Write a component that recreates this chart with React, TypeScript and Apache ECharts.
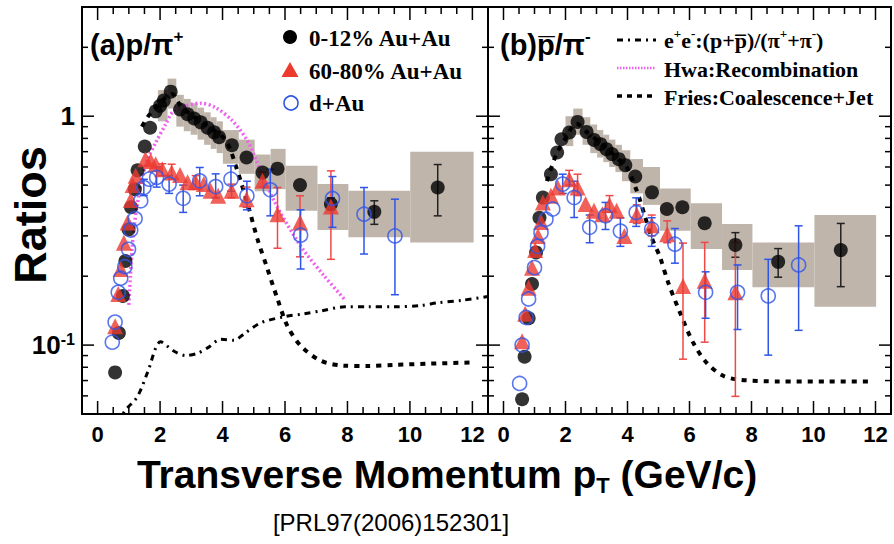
import React, { useEffect, useRef } from "react";
import * as echarts from "echarts";

const X_MIN = -0.5;
const X_MAX = 12.5;
const Y_MIN = 0.05;
const Y_MAX = 3;

// ---------- Panel (a): p / pi+ ----------
const aCentralX = [0.56, 0.68, 0.81, 0.89, 0.99, 1.07, 1.19, 1.28, 1.51, 1.68, 1.86, 2.0, 2.12, 2.34, 2.64, 2.88, 3.09, 3.3, 3.52, 3.73, 3.89, 4.3, 4.77, 5.28, 5.76, 6.48, 7.47, 8.86, 10.89];
const aCentralY = [0.076, 0.113, 0.164, 0.233, 0.32, 0.4, 0.48, 0.58, 0.737, 0.89, 1.05, 1.11, 1.17, 1.28, 1.07, 1.02, 0.977, 0.94, 0.89, 0.85, 0.81, 0.747, 0.66, 0.567, 0.59, 0.5, 0.413, 0.382, 0.488];
const aPeriphX = [0.56, 0.66, 0.74, 0.84, 0.96, 1.06, 1.12, 1.22, 1.53, 1.7, 1.86, 2.07, 2.37, 2.64, 2.88, 3.14, 3.4, 3.62, 3.86, 4.29, 4.77, 5.28, 5.76, 6.48, 7.47];
const aPeriphY = [0.121, 0.167, 0.215, 0.28, 0.343, 0.43, 0.5, 0.55, 0.649, 0.638, 0.617, 0.587, 0.567, 0.553, 0.514, 0.514, 0.505, 0.472, 0.449, 0.472, 0.434, 0.522, 0.373, 0.343, 0.403];
const aDAuX = [0.47, 0.56, 0.66, 0.74, 0.87, 0.99, 1.06, 1.2, 1.38, 1.48, 1.65, 1.89, 2.29, 2.74, 3.27, 3.78, 4.27, 4.78, 5.53, 6.5, 7.52, 8.53, 9.52];
const aDAuY = [0.103, 0.126, 0.17, 0.196, 0.22, 0.262, 0.318, 0.357, 0.427, 0.488, 0.531, 0.54, 0.505, 0.438, 0.522, 0.493, 0.531, 0.449, 0.477, 0.302, 0.437, 0.373, 0.3];
// [x, low, high]
const aCentralErr = [[7.47, 0.39, 0.44], [8.86, 0.337, 0.427], [10.89, 0.367, 0.615]];
const aPeriphErr = [[2.07, 0.55, 0.62], [2.37, 0.53, 0.617], [3.14, 0.48, 0.55], [4.29, 0.44, 0.505], [4.77, 0.4, 0.49], [5.28, 0.49, 0.57], [5.76, 0.265, 0.488], [6.48, 0.243, 0.449], [7.47, 0.237, 0.577]];
const aDAuErr = [[1.48, 0.45, 0.53], [1.89, 0.49, 0.6], [2.29, 0.46, 0.55], [2.74, 0.38, 0.5], [3.27, 0.449, 0.597], [3.78, 0.44, 0.56], [4.27, 0.47, 0.607], [4.78, 0.39, 0.52], [5.53, 0.367, 0.587], [6.5, 0.215, 0.39], [7.52, 0.327, 0.545], [8.53, 0.25, 0.488], [9.52, 0.166, 0.434]];
// systematic boxes [x0, x1, low, high]
const aSys = [[1.93, 2.24, 0.95, 1.3], [2.24, 2.52, 1.08, 1.46], [2.52, 2.76, 0.9, 1.24], [2.76, 2.98, 0.86, 1.19], [2.98, 3.2, 0.83, 1.14], [3.2, 3.41, 0.79, 1.09], [3.41, 3.62, 0.75, 1.04], [3.62, 3.81, 0.72, 0.99], [3.81, 4.01, 0.69, 0.95], [4.01, 4.52, 0.62, 0.87], [4.52, 5.03, 0.56, 0.79], [5.03, 5.54, 0.47, 0.68], [5.54, 6.02, 0.48, 0.72], [6.02, 7.04, 0.386, 0.607], [7.04, 8.03, 0.318, 0.505], [8.03, 10.01, 0.296, 0.472], [10.01, 12.04, 0.281, 0.7]];
const aEeX = [0.78, 0.84, 1.27, 1.6, 2.02, 2.45, 2.82, 3.19, 3.56, 3.94, 4.37, 4.69, 5.22, 5.97, 6.6, 7.14, 7.92, 8.64, 9.5, 10.36, 10.89, 11.68, 12.49];
const aEeY = [0.045, 0.0508, 0.0594, 0.076, 0.1034, 0.094, 0.09, 0.092, 0.098, 0.106, 0.105, 0.112, 0.125, 0.133, 0.137, 0.141, 0.147, 0.147, 0.147, 0.149, 0.153, 0.157, 0.163];
const aHwaX = [1.0, 1.05, 1.1, 1.17, 1.27, 1.42, 1.6, 1.86, 2.18, 2.4, 2.82, 3.3, 3.78, 4.32, 4.8, 5.08, 5.65, 6.5, 7.25, 7.95];
const aHwaY = [0.15, 0.2, 0.26, 0.33, 0.41, 0.53, 0.649, 0.767, 0.923, 1.04, 1.11, 1.14, 1.09, 0.954, 0.78, 0.64, 0.427, 0.271, 0.201, 0.156];
const aFriesX = [1.42, 1.6, 1.83, 2.03, 2.24, 2.39, 2.64, 3.05, 3.56, 4.06, 4.24, 4.42, 4.62, 4.85, 5.12, 5.44, 5.76, 6.08, 6.5, 7.14, 7.89, 8.64, 9.5, 10.67, 12.0];
const aFriesY = [0.9, 0.99, 1.08, 1.16, 1.22, 1.25, 1.12, 1.0, 0.9, 0.8, 0.72, 0.61, 0.5, 0.393, 0.29, 0.215, 0.159, 0.121, 0.0994, 0.0855, 0.0813, 0.081, 0.082, 0.083, 0.084];

// ---------- Panel (b): pbar / pi- ----------
const bCentralX = [0.6, 0.68, 0.81, 0.92, 1.05, 1.16, 1.27, 1.53, 1.73, 1.87, 2.12, 2.39, 2.68, 2.92, 3.13, 3.32, 3.5, 3.72, 3.93, 4.25, 4.79, 5.27, 5.77, 6.49, 7.48, 8.86, 10.88];
const bCentralY = [0.058, 0.089, 0.131, 0.185, 0.254, 0.36, 0.441, 0.558, 0.694, 0.793, 0.849, 0.944, 0.854, 0.788, 0.755, 0.718, 0.683, 0.649, 0.611, 0.545, 0.465, 0.393, 0.4, 0.341, 0.274, 0.231, 0.26];
const bPeriphX = [0.6, 0.7, 0.81, 0.92, 1.02, 1.11, 1.21, 1.27, 1.53, 1.75, 2.12, 2.39, 2.65, 2.92, 3.19, 3.42, 3.65, 3.9, 4.3, 4.78, 5.28, 5.79, 6.49, 7.48];
const bPeriphY = [0.104, 0.137, 0.178, 0.218, 0.26, 0.3, 0.345, 0.42, 0.449, 0.488, 0.531, 0.488, 0.413, 0.386, 0.373, 0.409, 0.386, 0.3, 0.37, 0.334, 0.305, 0.181, 0.191, 0.17];
const bDAuX = [0.52, 0.6, 0.73, 0.81, 1.0, 1.1, 1.21, 1.37, 1.59, 1.91, 2.28, 2.78, 3.29, 3.77, 4.28, 4.78, 5.53, 6.52, 7.55, 8.54, 9.52];
const bDAuY = [0.068, 0.1, 0.132, 0.159, 0.218, 0.27, 0.31, 0.355, 0.393, 0.505, 0.441, 0.327, 0.367, 0.315, 0.38, 0.321, 0.276, 0.17, 0.17, 0.164, 0.224];
const bCentralErr = [[7.48, 0.242, 0.31], [8.86, 0.198, 0.264], [10.88, 0.18, 0.34]];
const bPeriphErr = [[2.12, 0.5, 0.58], [2.39, 0.45, 0.558], [3.42, 0.38, 0.45], [4.3, 0.34, 0.41], [4.78, 0.3, 0.37], [5.28, 0.28, 0.349], [5.79, 0.0868, 0.279], [6.49, 0.103, 0.281], [7.48, 0.0597, 0.281]];
const bDAuErr = [[1.91, 0.46, 0.558], [2.28, 0.361, 0.52], [2.78, 0.28, 0.37], [3.29, 0.32, 0.42], [3.77, 0.27, 0.36], [4.28, 0.33, 0.44], [4.78, 0.27, 0.36], [5.53, 0.228, 0.323], [6.52, 0.131, 0.209], [7.55, 0.117, 0.224], [8.54, 0.0904, 0.237], [9.52, 0.116, 0.332]];
const bSys = [[2.0, 2.25, 0.74, 1.0], [2.25, 2.55, 0.83, 1.08], [2.55, 2.8, 0.75, 0.99], [2.8, 3.02, 0.69, 0.92], [3.02, 3.22, 0.66, 0.87], [3.22, 3.41, 0.63, 0.83], [3.41, 3.61, 0.6, 0.79], [3.61, 3.82, 0.57, 0.75], [3.82, 4.09, 0.52, 0.71], [4.09, 4.5, 0.46, 0.65], [4.5, 5.05, 0.41, 0.6], [5.05, 6.04, 0.316, 0.483], [6.04, 7.05, 0.263, 0.417], [7.05, 8.03, 0.213, 0.338], [8.03, 10.03, 0.179, 0.281], [10.03, 12.02, 0.147, 0.37]];
const bFriesX = [1.4, 1.7, 2.0, 2.35, 2.7, 3.2, 3.7, 4.0, 4.3, 4.41, 4.55, 4.78, 5.05, 5.31, 5.69, 6.11, 6.54, 7.07, 7.6, 8.88, 10.5, 11.86];
const bFriesY = [0.52, 0.68, 0.8, 0.93, 0.85, 0.75, 0.65, 0.59, 0.472, 0.427, 0.37, 0.295, 0.242, 0.188, 0.139, 0.103, 0.0841, 0.0736, 0.0706, 0.0694, 0.0694, 0.0694];

// ---------- ticks ----------
const xTicksMajor = [0, 2, 4, 6, 8, 10, 12];
const xTicksMinor = [0.5, 1, 1.5, 2.5, 3, 3.5, 4.5, 5, 5.5, 6.5, 7, 7.5, 8.5, 9, 9.5, 10.5, 11, 11.5];
const yTicksMajor = [0.1, 1];
const yTicksMinor = [0.06, 0.07, 0.08, 0.09, 0.2, 0.3, 0.4, 0.5, 0.6, 0.7, 0.8, 0.9, 2];

const BLACK = "#000000";
const RED = "#ec3a2f";
const BLUE = "#2f55e8";
const MAGENTA = "#ee60ee";
const GREY = "#bfb5ab";
const SANS = "Liberation Sans, Arial, sans-serif";
const SERIF = "Liberation Serif, Times New Roman, serif";

const zip = (xs: number[], ys: number[]) => xs.map((x, i) => [x, ys[i]]);

const tickData = [
  ...xTicksMajor.map((v) => [v, 1, 0]),
  ...xTicksMinor.map((v) => [v, 1, 1]),
  ...yTicksMajor.map((v) => [0, v, 2]),
  ...yTicksMinor.map((v) => [0, v, 3]),
];

const tickItem = (params: any, api: any) => {
  const cs = params.coordSys;
  const kind = api.value(2);
  const st = { stroke: "#000", lineWidth: 1.5 };
  if (kind < 2) {
    const px = api.coord([api.value(0), 1])[0];
    const L = kind === 0 ? 13 : 7;
    const b = cs.y + cs.height;
    const t = cs.y;
    return {
      type: "group",
      children: [
        { type: "line", shape: { x1: px, y1: b, x2: px, y2: b - L }, style: st },
        { type: "line", shape: { x1: px, y1: t, x2: px, y2: t + L }, style: st },
      ],
    };
  }
  const py = api.coord([0, api.value(1)])[1];
  const L = kind === 2 ? 12 : 6;
  const l = cs.x;
  const r = cs.x + cs.width;
  return {
    type: "group",
    children: [
      { type: "line", shape: { x1: l, y1: py, x2: l + L, y2: py }, style: st },
      { type: "line", shape: { x1: r, y1: py, x2: r - L, y2: py }, style: st },
    ],
  };
};

const errItem = (color: string) => (params: any, api: any) => {
  const x = api.value(0);
  const lo = api.coord([x, api.value(1)]);
  const hi = api.coord([x, api.value(2)]);
  const w = 4;
  const st = { stroke: color, lineWidth: 1.5 };
  return {
    type: "group",
    children: [
      { type: "line", shape: { x1: lo[0], y1: lo[1], x2: hi[0], y2: hi[1] }, style: st },
      { type: "line", shape: { x1: lo[0] - w, y1: lo[1], x2: lo[0] + w, y2: lo[1] }, style: st },
      { type: "line", shape: { x1: hi[0] - w, y1: hi[1], x2: hi[0] + w, y2: hi[1] }, style: st },
    ],
  };
};

const boxItem = (params: any, api: any) => {
  const p1 = api.coord([api.value(0), api.value(2)]);
  const p2 = api.coord([api.value(1), api.value(3)]);
  return {
    type: "rect",
    shape: { x: p1[0], y: p2[1], width: p2[0] - p1[0], height: p1[1] - p2[1] },
    style: { fill: GREY },
  };
};

function panelSeries(g: number, d: any) {
  const ax = { xAxisIndex: g, yAxisIndex: g };
  const s: any[] = [
    { type: "custom", ...ax, renderItem: boxItem, data: d.sys, encode: { x: [0, 1], y: [2, 3] }, z: 1, silent: true },
  ];
  if (d.ee) {
    s.push({ type: "line", ...ax, data: d.ee, showSymbol: false, smooth: 0.3, z: 2, lineStyle: { color: BLACK, width: 3, type: [6, 5, 2, 5] } });
  }
  if (d.hwa) {
    s.push({ type: "line", ...ax, data: d.hwa, showSymbol: false, smooth: 0.3, z: 2, lineStyle: { color: MAGENTA, width: 3.5, type: [2, 2.5] } });
  }
  s.push({ type: "line", ...ax, data: d.fries, showSymbol: false, smooth: 0.3, z: 2, lineStyle: { color: BLACK, width: 4, type: [5, 6] } });
  s.push({ type: "custom", ...ax, renderItem: errItem("#222"), data: d.cErr, encode: { x: 0, y: [1, 2] }, z: 3, silent: true });
  s.push({ type: "custom", ...ax, renderItem: errItem("#f04848"), data: d.pErr, encode: { x: 0, y: [1, 2] }, z: 3, silent: true });
  s.push({ type: "custom", ...ax, renderItem: errItem(BLUE), data: d.dErr, encode: { x: 0, y: [1, 2] }, z: 3, silent: true });
  s.push({ type: "scatter", ...ax, data: d.c, symbol: "circle", symbolSize: 14, itemStyle: { color: BLACK }, z: 4 });
  s.push({ type: "scatter", ...ax, data: d.p, symbol: "triangle", symbolSize: 16, itemStyle: { color: RED }, z: 5 });
  s.push({ type: "scatter", ...ax, data: d.d, symbol: "circle", symbolSize: 14, itemStyle: { color: "transparent", borderColor: BLUE, borderWidth: 1.6 }, z: 6 });
  s.push({ type: "custom", ...ax, renderItem: tickItem, data: tickData, z: 8, silent: true });
  return s;
}

export default function App() {
  const ref = useRef<HTMLDivElement>(null);
  useEffect(() => {
    if (!ref.current) return;
    const chart = echarts.init(ref.current, null, { renderer: "svg" });
    const gridBase = { show: true, borderColor: "#000", borderWidth: 2, backgroundColor: "transparent", top: 7, height: 407 };
    const xAxisBase = {
      type: "value",
      min: X_MIN,
      max: X_MAX,
      interval: 0.5,
      axisLine: { show: false },
      axisTick: { show: false },
      splitLine: { show: false },
      axisLabel: {
        fontSize: 22,
        fontWeight: "bold",
        fontFamily: SANS,
        color: "#000",
        margin: 9,
        formatter: (v: number) => (v >= 0 && Math.abs(v % 2) < 1e-9 ? String(v) : ""),
      },
    };
    const yAxisBase = {
      type: "log",
      logBase: 10,
      min: Y_MIN,
      max: Y_MAX,
      axisLine: { show: false },
      axisTick: { show: false },
      splitLine: { show: false },
      minorTick: { show: false },
    };
    const option: any = {
      animation: false,
      grid: [
        { ...gridBase, left: 82, width: 406 },
        { ...gridBase, left: 488, width: 405 },
      ],
      xAxis: [
        { ...xAxisBase, gridIndex: 0 },
        { ...xAxisBase, gridIndex: 1 },
      ],
      yAxis: [
        {
          ...yAxisBase,
          gridIndex: 0,
          axisLabel: {
            margin: 7,
            color: "#000",
            formatter: (v: number) => (Math.abs(v - 1) < 1e-6 ? "{b|1}" : Math.abs(v - 0.1) < 1e-6 ? "{b|10}{s|-1}" : ""),
            rich: {
              b: { fontSize: 26, fontWeight: "bold", fontFamily: SANS, color: "#000", lineHeight: 28 },
              s: { fontSize: 16, fontWeight: "bold", fontFamily: SANS, color: "#000", verticalAlign: "top", lineHeight: 15 },
            },
          },
        },
        { ...yAxisBase, gridIndex: 1, axisLabel: { show: false } },
      ],
      series: [
        ...panelSeries(0, {
          sys: aSys,
          ee: zip(aEeX, aEeY),
          hwa: zip(aHwaX, aHwaY),
          fries: zip(aFriesX, aFriesY),
          c: zip(aCentralX, aCentralY),
          p: zip(aPeriphX, aPeriphY),
          d: zip(aDAuX, aDAuY),
          cErr: aCentralErr,
          pErr: aPeriphErr,
          dErr: aDAuErr,
        }),
        ...panelSeries(1, {
          sys: bSys,
          fries: zip(bFriesX, bFriesY),
          c: zip(bCentralX, bCentralY),
          p: zip(bPeriphX, bPeriphY),
          d: zip(bDAuX, bDAuY),
          cErr: bCentralErr,
          pErr: bPeriphErr,
          dErr: bDAuErr,
        }),
      ],
      graphic: [
        // panel labels
        {
          type: "text", left: 90, top: 28, z: 20,
          style: {
            text: "{a|(a)p/π}{s|+}",
            rich: {
              a: { fontSize: 29, fontWeight: "bold", fontFamily: SANS, fill: "#000", lineHeight: 33 },
              s: { fontSize: 17, fontWeight: "bold", fontFamily: SANS, fill: "#000", verticalAlign: "top", lineHeight: 17 },
            },
          },
        },
        {
          type: "text", left: 500, top: 28, z: 20,
          style: {
            text: "{a|(b)p\u0305/π}{s|-}",
            rich: {
              a: { fontSize: 29, fontWeight: "bold", fontFamily: SANS, fill: "#000", lineHeight: 33 },
              s: { fontSize: 17, fontWeight: "bold", fontFamily: SANS, fill: "#000", verticalAlign: "top", lineHeight: 17 },
            },
          },
        },
        // left legend
        { type: "circle", shape: { cx: 290, cy: 37, r: 7 }, style: { fill: BLACK }, z: 20 },
        { type: "polygon", shape: { points: [[290, 62], [281.5, 77], [298.5, 77]] }, style: { fill: RED }, z: 20 },
        { type: "circle", shape: { cx: 291, cy: 103, r: 7 }, style: { fill: "none", stroke: BLUE, lineWidth: 1.6 }, z: 20 },
        { type: "text", x: 309, y: 38, z: 20, style: { text: "0-12% Au+Au", fontSize: 23, fontWeight: "bold", fontFamily: SERIF, fill: "#000", verticalAlign: "middle" } },
        { type: "text", x: 309, y: 71, z: 20, style: { text: "60-80% Au+Au", fontSize: 23, fontWeight: "bold", fontFamily: SERIF, fill: "#000", verticalAlign: "middle" } },
        { type: "text", x: 309, y: 103, z: 20, style: { text: "d+Au", fontSize: 23, fontWeight: "bold", fontFamily: SERIF, fill: "#000", verticalAlign: "middle" } },
        // right legend
        { type: "line", shape: { x1: 617, y1: 40, x2: 656, y2: 40 }, style: { stroke: BLACK, lineWidth: 3, lineDash: [6, 5, 2, 5] }, z: 20 },
        { type: "line", shape: { x1: 617, y1: 68, x2: 656, y2: 68 }, style: { stroke: MAGENTA, lineWidth: 2.5, lineDash: [1.5, 1.5] }, z: 20 },
        { type: "line", shape: { x1: 617, y1: 96, x2: 656, y2: 96 }, style: { stroke: BLACK, lineWidth: 3.5, lineDash: [5, 5] }, z: 20 },
        {
          type: "text", x: 664, y: 40, z: 20,
          style: {
            text: "{n|e}{s|+}{n|e}{s|-}{n|:(p+p\u0305)/(π}{s|+}{n|+π}{s|-}{n|)}",
            verticalAlign: "middle",
            rich: {
              n: { fontSize: 22, fontWeight: "bold", fontFamily: SERIF, fill: "#000", lineHeight: 26 },
              s: { fontSize: 13, fontWeight: "bold", fontFamily: SERIF, fill: "#000", verticalAlign: "top", lineHeight: 13 },
            },
          },
        },
        { type: "text", x: 664, y: 69, z: 20, style: { text: "Hwa:Recombination", fontSize: 22, fontWeight: "bold", fontFamily: SERIF, fill: "#000", verticalAlign: "middle" } },
        { type: "text", x: 664, y: 97, z: 20, style: { text: "Fries:Coalescence+Jet", fontSize: 22, fontWeight: "bold", fontFamily: SERIF, fill: "#000", verticalAlign: "middle" } },
        // axis titles
        { type: "text", x: 30, y: 215, rotation: Math.PI / 2, z: 20, style: { text: "Ratios", fontSize: 45, fontWeight: "bold", fontFamily: SANS, fill: "#000", align: "center", verticalAlign: "middle" } },
        {
          type: "text", x: 447, y: 474, z: 20,
          style: {
            text: "{a|Transverse Momentum p}{s|T}{a| (GeV/c)}",
            align: "center",
            verticalAlign: "middle",
            rich: {
              a: { fontSize: 39, fontWeight: "bold", fontFamily: SANS, fill: "#000", lineHeight: 44 },
              s: { fontSize: 22, fontWeight: "bold", fontFamily: SANS, fill: "#000", verticalAlign: "bottom", lineHeight: 22 },
            },
          },
        },
        { type: "text", x: 391, y: 522, z: 20, style: { text: "[PRL97(2006)152301]", fontSize: 24, fontFamily: SANS, fill: "#000", align: "center", verticalAlign: "middle" } },
      ],
    };
    chart.setOption(option);
    return () => chart.dispose();
  }, []);
  return <div ref={ref} style={{ position: "absolute", left: 0, top: 0, width: 894, height: 544, background: "#fff" }} />;
}
